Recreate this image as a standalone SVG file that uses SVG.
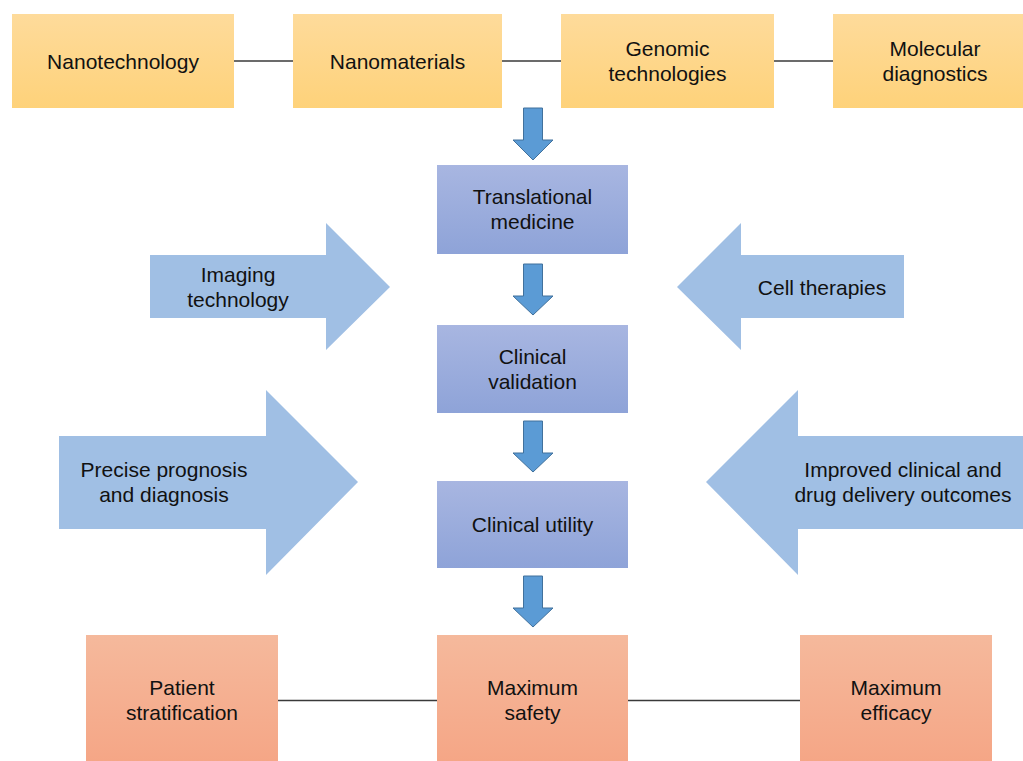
<svg xmlns="http://www.w3.org/2000/svg" width="1023" height="761" viewBox="0 0 1023 761">
<defs>
<linearGradient id="gY" x1="0" y1="0" x2="0" y2="1"><stop offset="0" stop-color="#fedb9b"/><stop offset="1" stop-color="#fed27a"/></linearGradient>
<linearGradient id="gB" x1="0" y1="0" x2="0" y2="1"><stop offset="0" stop-color="#a8b6e1"/><stop offset="1" stop-color="#8ea3d8"/></linearGradient>
<linearGradient id="gO" x1="0" y1="0" x2="0" y2="1"><stop offset="0" stop-color="#f5b99c"/><stop offset="1" stop-color="#f5a686"/></linearGradient>
<style>
text{font-family:"Liberation Sans",Arial,sans-serif;font-size:21px;fill:#111;text-anchor:middle}
.y{fill:url(#gY)}
.b{fill:url(#gB)}
.o{fill:url(#gO)}
.big{fill:#a0bfe4}
.down{fill:#5b9bd5;stroke:#41719c;stroke-width:1}
.ln{stroke:#3a3a3a;stroke-width:1.6;fill:none}
</style>
</defs>
<rect width="1023" height="761" fill="#fff"/>
<g id="connectors">
<line class="ln" x1="234" y1="61" x2="293" y2="61"/>
<line class="ln" x1="502" y1="61" x2="561" y2="61"/>
<line class="ln" x1="774" y1="61" x2="833" y2="61"/>
<line class="ln" x1="278" y1="700.5" x2="437" y2="700.5"/>
<line class="ln" x1="628" y1="700.5" x2="800" y2="700.5"/>
<path class="down" d="M523.5,108 H542.5 V140 H553 L533,160 L513,140 H523.5 Z"/>
<path class="down" d="M523.5,264 H542.5 V296 H553 L533,315 L513,296 H523.5 Z"/>
<path class="down" d="M523.5,421 H542.5 V453 H553 L533,472 L513,453 H523.5 Z"/>
<path class="down" d="M523.5,576 H542.5 V608 H553 L533,627 L513,608 H523.5 Z"/>
</g>
<g id="nanotechnology"><rect class="y" x="12" y="14" width="222" height="94"/><text x="123" y="68.5">Nanotechnology</text></g>
<g id="nanomaterials"><rect class="y" x="293" y="14" width="209" height="94"/><text x="397.5" y="68.5">Nanomaterials</text></g>
<g id="genomic"><rect class="y" x="561" y="14" width="213" height="94"/><text x="667.5" y="56">Genomic</text><text x="667.5" y="81">technologies</text></g>
<g id="molecular"><rect class="y" x="833" y="14" width="190" height="94"/><text x="935" y="56">Molecular</text><text x="935" y="81">diagnostics</text></g>
<g id="translational"><rect class="b" x="437" y="165" width="191" height="89"/><text x="532.5" y="204">Translational</text><text x="532.5" y="229">medicine</text></g>
<g id="validation"><rect class="b" x="437" y="325" width="191" height="88"/><text x="532.5" y="364">Clinical</text><text x="532.5" y="389">validation</text></g>
<g id="utility"><rect class="b" x="437" y="481" width="191" height="87"/><text x="532.5" y="532">Clinical utility</text></g>
<g id="imaging"><path class="big" d="M150,255 H326 V223 L390,287 L326,350 V318 H150 Z"/><text x="238" y="282">Imaging</text><text x="238" y="307">technology</text></g>
<g id="cell"><path class="big" d="M904,255 H741 V223 L677,287 L741,350 V318 H904 Z"/><text x="822" y="295">Cell therapies</text></g>
<g id="precise"><path class="big" d="M59,436 H266 V390 L358,482 L266,575 V529 H59 Z"/><text x="164" y="477">Precise prognosis</text><text x="164" y="502">and diagnosis</text></g>
<g id="improved"><path class="big" d="M1023,436 H798 V390 L706,482 L798,575 V529 H1023 Z"/><text x="903" y="477">Improved clinical and</text><text x="903" y="502">drug delivery outcomes</text></g>
<g id="patient"><rect class="o" x="86" y="635" width="192" height="126"/><text x="182" y="695">Patient</text><text x="182" y="720">stratification</text></g>
<g id="safety"><rect class="o" x="437" y="635" width="191" height="126"/><text x="532.5" y="695">Maximum</text><text x="532.5" y="720">safety</text></g>
<g id="efficacy"><rect class="o" x="800" y="635" width="192" height="126"/><text x="896" y="695">Maximum</text><text x="896" y="720">efficacy</text></g>
</svg>
